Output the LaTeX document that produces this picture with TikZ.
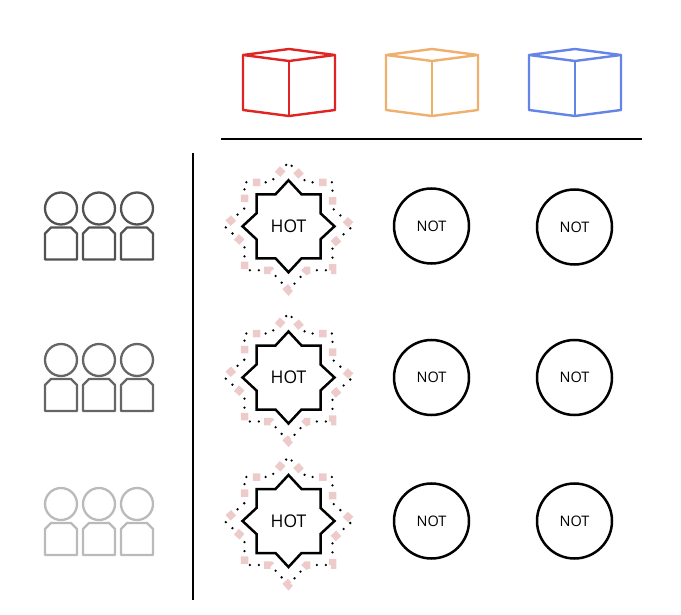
\documentclass[tikz,border=0pt]{standalone}
\usepackage{fontspec}
\setmainfont{Open Sans}
\definecolor{cubered}{HTML}{E02424}
\definecolor{cubeorange}{HTML}{EFB06E}
\definecolor{cubeblue}{HTML}{6484E8}
\definecolor{hotpink}{HTML}{EECBCB}

\begin{document}
\begin{tikzpicture}[x=1pt, y=-1pt,
  axisline/.style={draw, black, line width=2.4pt},
  cubeline/.style={draw, line width=2.4pt, line join=round},
  personline/.style={draw, line width=2.3pt, line join=round},
  notnode/.style={draw, circle, line width=2.5pt, minimum size=75pt, inner sep=0pt, font=\fontsize{14.5pt}{16pt}\selectfont},
  hotnode/.style={inner sep=0pt, font=\fontsize{17.5pt}{19pt}\selectfont},
  starline/.style={draw, line width=2.5pt, miter limit=10},
  stardots/.style={draw, black, line width=2.6pt, line cap=round, dash pattern=on 0pt off 9pt on 0pt off 19.27pt, dash phase=4.27pt},
  stardash/.style={draw, hotpink, line width=7.5pt, dash pattern=on 7.5pt off 20.77pt, dash phase=17.02pt},
  cube/.pic={
    \draw[cubeline, #1] (-46,-6) -- (0,-12) -- (46,-6) -- (0,0) -- cycle;
    \draw[cubeline, #1] (-46,-6) -- (-46,49) -- (0,55) -- (46,49) -- (46,-6);
    \draw[cubeline, #1] (0,0) -- (0,55);
  },
  people/.pic={
    \draw[personline, #1] (-38,0) circle (16);
    \draw[personline, #1] (0,0) circle (16);
    \draw[personline, #1] (38,0) circle (16);
    \draw[personline, #1] (-54,25) -- (-48,19) -- (-28,19) -- (-22,25) -- (-22,51) -- (-54,51) -- cycle;
    \draw[personline, #1] (-16,25) -- (-10,19) -- (10,19) -- (16,25) -- (16,51) -- (-16,51) -- cycle;
    \draw[personline, #1] (22,25) -- (28,19) -- (48,19) -- (54,25) -- (54,51) -- (22,51) -- cycle;
  },
  hotstar/.pic={
    \draw[stardash] (0,-64) -- (18,-44) -- (44,-44) -- (44,-18) -- (64,0) -- (44,18) -- (44,44) -- (18,44) -- (0,64) -- (-18,44) -- (-44,44) -- (-44,18) -- (-64,0) -- (-44,-18) -- (-44,-44) -- (-18,-44) -- cycle;
    \draw[stardots] (0,-64) -- (18,-44) -- (44,-44) -- (44,-18) -- (64,0) -- (44,18) -- (44,44) -- (18,44) -- (0,64) -- (-18,44) -- (-44,44) -- (-44,18) -- (-64,0) -- (-44,-18) -- (-44,-44) -- (-18,-44) -- cycle;
    \draw[starline] (0,-46) -- (13,-32) -- (32,-32) -- (32,-13) -- (46,0) -- (32,13) -- (32,32) -- (13,32) -- (0,46) -- (-13,32) -- (-32,32) -- (-32,13) -- (-46,0) -- (-32,-13) -- (-32,-32) -- (-13,-32) -- cycle;
  },
]
  \useasboundingbox (0,0) rectangle (681,615);
  % header cubes
  \pic at (289,61) {cube=cubered};
  \pic at (432,61) {cube=cubeorange};
  \pic at (575,61) {cube=cubeblue};
  \coordinate (axisleft) at (221,139);
  \coordinate (axisright) at (642,139);
  \coordinate (axistop) at (193,153);
  \coordinate (axisbottom) at (193,600);
  \draw[axisline] (axisleft) -- (axisright);
  \draw[axisline] (axistop) -- (axisbottom);
  % groups of people
  \pic at (99,208.5) {people=black!68};
  \pic at (99,360) {people=black!60};
  \pic at (99,504) {people=black!27};
  % first row
  \pic at (288.5,226.3) {hotstar};
  \node[hotnode] (hota) at (288.5,226) {HOT};
  \node[notnode] (nota) at (431.5,226) {NOT};
  \node[notnode] (notb) at (574.5,227) {NOT};
  % second row
  \pic at (288.5,377.5) {hotstar};
  \node[hotnode] (hotb) at (288.5,377) {HOT};
  \node[notnode] (notc) at (431.5,377.5) {NOT};
  \node[notnode] (notd) at (574.5,377.5) {NOT};
  % third row
  \pic at (288.5,521) {hotstar};
  \node[hotnode] (hotc) at (288.5,521) {HOT};
  \node[notnode] (note) at (431.5,521) {NOT};
  \node[notnode] (notf) at (574.5,521) {NOT};
\end{tikzpicture}
\end{document}
